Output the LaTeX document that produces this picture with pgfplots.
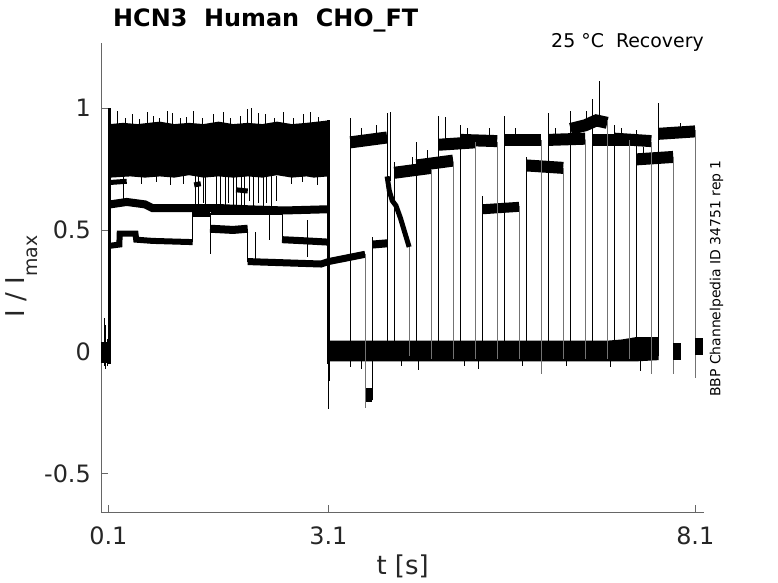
\documentclass[border=0pt]{standalone}
\usepackage{fontspec}
\setmainfont{DejaVu Sans}
\usepackage{pgfplots}
\pgfplotsset{compat=1.18}
\begin{document}
\begin{tikzpicture}[x=1bp,y=1bp]
\path[use as bounding box] (0,0) rectangle (778,583);
\begin{axis}[
  at={(101bp,71bp)}, anchor=south west,
  scale only axis, width=603.3bp, height=468.7bp,
  xmin=0, xmax=8.223, ymin=-0.659, ymax=1.267,
  axis x line*=bottom, axis y line*=left,
  axis line style={draw=black!60, line width=0.8bp, -},
  tick align=inside, major tick length=7bp,
  tick style={draw=black!60, line width=0.8bp},
  xtick={0.1,3.1,8.1}, xticklabels={0.1,3.1,8.1},
  ytick={-0.5,0,0.5,1}, yticklabels={-0.5,0,0.5,1},
  ticklabel style={font=\fontsize{24}{28}\selectfont, text=black!85},
  xticklabel style={anchor=north, inner sep=0pt, yshift=-15bp},
  yticklabel style={anchor=east, inner sep=0pt, xshift=-10bp},
  unbounded coords=jump,
]
% ---- baseline before step
\addplot[fill=black, draw=none, forget plot] coordinates {(0,-0.045)(0.1,-0.045)(0.1,0.04)(0,0.04)} -- cycle;
\addplot[black, line width=1bp, forget plot] coordinates {(0.045,-0.06)(0.045,0.137)(0.046,nan)(0.06,-0.07)(0.06,0.11)(0.061,nan)(0.085,-0.06)(0.085,0.05)};
% ---- step at 0.1 s
\addplot[black, line width=2.5bp, forget plot] coordinates {(0.115,-0.05)(0.115,1.0)};
% ---- main band of conditioning pulse
\addplot[fill=black, draw=none, forget plot] coordinates {(0.125,0.715)(0.125,0.935)(0.3,0.94)(0.5,0.935)(0.8,0.945)(1.0,0.935)(1.2,0.94)(1.4,0.935)(1.6,0.945)(1.8,0.935)(2.0,0.94)(2.2,0.935)(2.4,0.945)(2.6,0.935)(2.8,0.94)(3.095,0.95)(3.095,0.72)(2.9,0.715)(2.8,0.72)(2.6,0.715)(2.4,0.725)(2.2,0.715)(2.0,0.72)(1.8,0.715)(1.6,0.72)(1.4,0.715)(1.2,0.725)(1.0,0.715)(0.8,0.72)(0.6,0.715)(0.4,0.72)} -- cycle;
% spikes on top of the band
\addplot[black, line width=0.9bp, forget plot] coordinates {
(0.219,0.93)(0.219,0.99)(0.22,nan)
(0.33,0.93)(0.33,0.96)(0.331,nan)
(0.423,0.93)(0.423,0.975)(0.424,nan)
(0.52,0.93)(0.52,0.955)(0.521,nan)
(0.627,0.93)(0.627,0.985)(0.628,nan)
(0.709,0.93)(0.709,0.97)(0.71,nan)
(0.80,0.93)(0.80,0.96)(0.801,nan)
(0.900,0.93)(0.900,0.99)(0.901,nan)
(0.968,0.93)(0.968,0.98)(0.969,nan)
(1.08,0.93)(1.08,0.96)(1.081,nan)
(1.17,0.93)(1.17,0.965)(1.171,nan)
(1.254,0.93)(1.254,0.99)(1.255,nan)
(1.38,0.93)(1.38,0.96)(1.381,nan)
(1.527,0.93)(1.527,0.975)(1.528,nan)
(1.663,0.93)(1.663,0.985)(1.664,nan)
(1.77,0.93)(1.77,0.96)(1.771,nan)
(1.895,0.93)(1.895,0.97)(1.896,nan)
(1.990,0.93)(1.990,0.995)(1.991,nan)
(2.05,0.93)(2.05,1.0)(2.051,nan)
(2.140,0.93)(2.140,0.98)(2.141,nan)
(2.236,0.93)(2.236,0.975)(2.237,nan)
(2.36,0.93)(2.36,0.96)(2.361,nan)
(2.481,0.93)(2.481,0.985)(2.482,nan)
(2.62,0.93)(2.62,0.96)(2.621,nan)
(2.753,0.93)(2.753,0.975)(2.754,nan)
(2.849,0.93)(2.849,0.985)(2.85,nan)
(2.97,0.93)(2.97,0.965)};
% bottom jags of the band
\addplot[black, line width=0.9bp, forget plot] coordinates {
(0.30,0.72)(0.30,0.62)(0.301,nan)
(0.55,0.72)(0.55,0.69)(0.551,nan)
(0.75,0.72)(0.75,0.695)(0.751,nan)
(0.95,0.72)(0.95,0.685)(0.951,nan)
(1.12,0.72)(1.12,0.69)(1.121,nan)
(2.6,0.72)(2.6,0.69)(2.601,nan)
(2.75,0.72)(2.75,0.695)(2.751,nan)
(2.95,0.72)(2.95,0.685)};
% early trace near 0.70
\addplot[black, line width=5bp, forget plot] coordinates {(0.125,0.695)(0.35,0.70)};
% trace near 0.6
\addplot[black, line width=8bp, forget plot] coordinates {(0.125,0.605)(0.35,0.615)(0.6,0.605)(0.7,0.59)(1.25,0.59)(1.6,0.59)(2.0,0.585)(2.5,0.58)(3.095,0.585)};
% second trace near 0.58, dropping to 0.46
\addplot[black, line width=6bp, forget plot] coordinates {(1.5,0.572)(2.467,0.572)};
\addplot[black, line width=1bp, forget plot] coordinates {(2.467,0.58)(2.467,0.455)};
\addplot[black, line width=7bp, forget plot] coordinates {(2.467,0.46)(2.8,0.455)(3.095,0.45)};
% trace 0.44 -> 0.50 -> 0.37 (continues through the test pulse)
\addplot[black, line width=6bp, forget plot] coordinates {(0.125,0.435)(0.25,0.44)(0.255,0.485)(0.47,0.485)(0.48,0.46)(0.7,0.455)(1.25,0.45)};
\addplot[black, line width=6bp, forget plot] coordinates {(1.25,0.565)(1.486,0.565)};
\addplot[black, line width=8bp, forget plot] coordinates {(1.486,0.505)(1.8,0.50)(2.0,0.505)};
\addplot[black, line width=7bp, forget plot] coordinates {(2.0,0.37)(2.5,0.365)(3.0,0.36)(3.1,0.37)(3.35,0.385)(3.6,0.40)};
% transitions and spikes among the lower traces
\addplot[black, line width=1bp, forget plot] coordinates {
(1.25,0.45)(1.25,0.60)(1.251,nan)
(1.486,0.57)(1.486,0.40)(1.487,nan)
(2.0,0.50)(2.0,0.37)(2.001,nan)
(2.10,0.37)(2.10,0.49)(2.101,nan)
(2.808,0.39)(2.808,0.54)};
% messy region between the band and the 0.6 trace
\addplot[black, line width=0.9bp, forget plot] coordinates {
(1.284,0.72)(1.284,0.60)(1.285,nan)
(1.323,0.72)(1.323,0.58)(1.324,nan)
(1.39,0.72)(1.39,0.61)(1.391,nan)
(1.43,0.72)(1.43,0.60)(1.431,nan)
(1.58,0.72)(1.58,0.56)(1.581,nan)
(1.63,0.72)(1.63,0.60)(1.631,nan)
(1.70,0.72)(1.70,0.58)(1.701,nan)
(1.74,0.72)(1.74,0.61)(1.741,nan)
(1.80,0.72)(1.80,0.57)(1.801,nan)
(1.85,0.72)(1.85,0.60)(1.851,nan)
(1.91,0.72)(1.91,0.59)(1.911,nan)
(1.96,0.72)(1.96,0.60)(1.961,nan)
(2.03,0.72)(2.03,0.62)(2.031,nan)
(2.08,0.72)(2.08,0.60)(2.081,nan)
(2.14,0.72)(2.14,0.61)(2.141,nan)
(2.21,0.72)(2.21,0.58)(2.211,nan)
(2.25,0.72)(2.25,0.61)(2.251,nan)
(2.30,0.60)(2.30,0.46)(2.301,nan)
(2.32,0.72)(2.32,0.60)(2.321,nan)
(2.385,0.72)(2.385,0.62)};
\addplot[black, line width=5bp, forget plot] coordinates {(1.27,0.685)(1.36,0.69)};
\addplot[black, line width=5bp, forget plot] coordinates {(1.84,0.665)(2.0,0.66)};
% ---- end of conditioning pulse at 3.1 s
\addplot[black, line width=2.5bp, forget plot] coordinates {(3.1,-0.05)(3.1,0.95)};
\addplot[black, line width=1bp, forget plot] coordinates {(3.1,-0.235)(3.1,0)};
\addplot[black, line width=2bp, forget plot] coordinates {(3.106,-0.12)(3.106,0)};
% ---- zero band during the recovery interval
\addplot[fill=black, draw=none, forget plot] coordinates {(3.1,-0.04)(3.1,0.045)(4.0,0.045)(5.0,0.045)(6.0,0.045)(6.9,0.045)(7.1,0.05)(7.3,0.06)(7.6,0.06)(7.6,-0.035)(7.3,-0.04)(6.0,-0.04)(5.0,-0.04)(4.0,-0.04)} -- cycle;
\addplot[black, line width=0.9bp, forget plot] coordinates {
(3.4,-0.03)(3.4,-0.065)(3.401,nan)
(3.55,-0.03)(3.55,-0.07)(3.551,nan)
(4.1,-0.03)(4.1,-0.06)(4.101,nan)
(4.33,-0.03)(4.33,-0.075)(4.331,nan)
(4.95,-0.03)(4.95,-0.06)(4.951,nan)
(5.15,-0.03)(5.15,-0.07)(5.151,nan)
(5.75,-0.03)(5.75,-0.06)(5.751,nan)
(6.35,-0.03)(6.35,-0.06)(6.351,nan)
(6.95,-0.03)(6.95,-0.065)(6.951,nan)
(7.35,-0.03)(7.35,-0.08)};
% ---- tail after the first (zero interval) sweep
\addplot[fill=black, draw=none, forget plot] coordinates {(3.6,-0.205)(3.7,-0.205)(3.7,-0.15)(3.6,-0.15)} -- cycle;
% ---- test pulses (sweeps 1..15)
\addplot[black, line width=12bp, forget plot] coordinates {(3.4,0.86)(3.9,0.88)};
\addplot[black, line width=8bp, forget plot] coordinates {(3.7,0.44)(3.9,0.445)};
\addplot[black, line width=5bp, forget plot] coordinates {(3.9,0.72)(3.93,0.66)(3.97,0.62)(4.02,0.60)(4.08,0.55)(4.15,0.48)(4.2,0.43)};
\addplot[black, line width=12bp, forget plot] coordinates {(4.0,0.735)(4.5,0.755)};
\addplot[black, line width=12bp, forget plot] coordinates {(4.3,0.765)(4.8,0.785)};
\addplot[black, line width=12bp, forget plot] coordinates {(4.6,0.85)(5.1,0.86)};
\addplot[black, line width=12bp, forget plot] coordinates {(4.9,0.87)(5.4,0.865)};
\addplot[black, line width=10bp, forget plot] coordinates {(5.2,0.585)(5.7,0.595)};
\addplot[black, line width=12bp, forget plot] coordinates {(5.5,0.87)(6.0,0.87)};
\addplot[black, line width=12bp, forget plot] coordinates {(5.8,0.765)(6.3,0.755)};
\addplot[black, line width=12bp, forget plot] coordinates {(6.1,0.87)(6.6,0.875)};
\addplot[black, line width=12bp, forget plot] coordinates {(6.4,0.915)(6.6,0.93)(6.75,0.95)(6.9,0.94)};
\addplot[black, line width=12bp, forget plot] coordinates {(6.7,0.87)(7.2,0.87)};
\addplot[black, line width=12bp, forget plot] coordinates {(7.0,0.875)(7.5,0.865)};
\addplot[black, line width=12bp, forget plot] coordinates {(7.3,0.79)(7.8,0.80)};
\addplot[black, line width=12bp, forget plot] coordinates {(7.6,0.895)(8.1,0.905)};
% spikes on test pulses
\addplot[black, line width=0.9bp, forget plot] coordinates {
(3.55,0.88)(3.55,0.92)(3.551,nan)
(3.75,0.88)(3.75,0.93)(3.751,nan)
(4.25,0.76)(4.25,0.80)(4.251,nan)
(4.45,0.78)(4.45,0.83)(4.451,nan)
(4.7,0.86)(4.7,0.965)(4.701,nan)
(5.0,0.88)(5.0,0.92)(5.001,nan)
(5.3,0.88)(5.3,0.92)(5.301,nan)
(5.65,0.88)(5.65,0.92)(5.651,nan)
(6.2,0.88)(6.2,0.92)(6.201,nan)
(6.62,0.93)(6.62,0.99)(6.621,nan)
(6.70,0.93)(6.70,1.04)(6.701,nan)
(6.80,0.93)(6.80,1.11)(6.801,nan)
(7.1,0.88)(7.1,0.92)(7.101,nan)
(7.4,0.80)(7.4,0.84)(7.401,nan)
(7.9,0.90)(7.9,0.94)(7.901,nan)
(3.95,0.70)(3.95,0.985)};
% rising edges
\addplot[black, line width=1bp, forget plot] coordinates {
(3.4,-0.02)(3.4,0.96)(3.401,nan)
(3.7,-0.2)(3.7,0.47)(3.701,nan)
(3.9,0.445)(3.9,0.74)(3.901,nan)
(4.0,-0.02)(4.0,0.78)(4.001,nan)
(4.3,-0.02)(4.3,0.86)(4.301,nan)
(4.6,-0.02)(4.6,0.97)(4.601,nan)
(4.9,-0.02)(4.9,0.93)(4.901,nan)
(5.2,-0.02)(5.2,0.64)(5.201,nan)
(5.5,-0.02)(5.5,0.97)(5.501,nan)
(5.8,-0.02)(5.8,0.80)(5.801,nan)
(6.1,-0.02)(6.1,0.98)(6.101,nan)
(6.4,-0.02)(6.4,0.99)(6.401,nan)
(6.7,-0.02)(6.7,1.04)(6.701,nan)
(7.0,-0.02)(7.0,0.93)(7.001,nan)
(7.3,-0.02)(7.3,0.91)(7.301,nan)
(7.6,-0.02)(7.6,1.02)};
\addplot[black, line width=1bp, forget plot] coordinates {(3.9,0.98)(3.9,-0.02)};
% falling edges
\addplot[black!55, line width=1bp, forget plot] coordinates {
(3.6,0.40)(3.6,-0.23)(3.601,nan)
(4.2,0.43)(4.2,-0.02)(4.201,nan)
(4.5,0.75)(4.5,-0.03)(4.501,nan)
(4.8,0.78)(4.8,-0.03)(4.801,nan)
(5.1,0.86)(5.1,-0.03)(5.101,nan)
(5.4,0.86)(5.4,-0.03)(5.401,nan)
(5.7,0.60)(5.7,-0.03)(5.701,nan)
(6.0,0.87)(6.0,-0.09)(6.001,nan)
(6.3,0.755)(6.3,-0.03)(6.301,nan)
(6.6,0.87)(6.6,-0.03)(6.601,nan)
(6.9,0.95)(6.9,-0.03)(6.901,nan)
(7.2,0.87)(7.2,-0.03)(7.201,nan)
(7.5,0.86)(7.5,-0.09)(7.501,nan)
(7.8,0.80)(7.8,-0.09)(7.801,nan)
(8.1,0.91)(8.1,-0.11)};
% short zero segments at the end of the last sweeps
\addplot[fill=black, draw=none, forget plot] coordinates {(7.8,-0.035)(7.9,-0.035)(7.9,0.035)(7.8,0.035)} -- cycle;
\addplot[fill=black, draw=none, forget plot] coordinates {(8.1,-0.015)(8.2,-0.015)(8.2,0.055)(8.1,0.055)} -- cycle;
\end{axis}
\node[anchor=base west, inner sep=0pt, font=\bfseries\fontsize{24}{28}\selectfont] at (113,556) {HCN3\ \ Human\ \ CHO\_FT};
\node[anchor=base east, inner sep=0pt, font=\fontsize{19}{23}\selectfont] at (704,535) {25 °C\ \ Recovery};
\node[rotate=90, inner sep=0pt, font=\fontsize{14}{16}\selectfont] at (716.5,304.5) {BBP Channelpedia ID 34751 rep 1};
\node[rotate=90, inner sep=0pt, font=\fontsize{26}{30}\selectfont, text=black!85] at (22,306.5) {I / I\raisebox{-13bp}{\fontsize{19}{22}\selectfont max}};
\node[anchor=base, inner sep=0pt, font=\fontsize{26}{30}\selectfont, text=black!85] at (402.6,8) {t [s]};
\end{tikzpicture}
\end{document}
